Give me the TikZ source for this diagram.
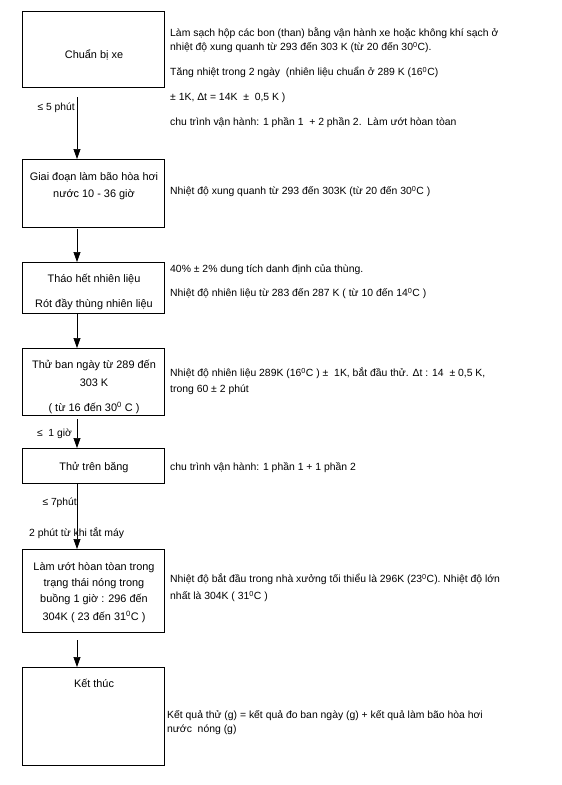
\documentclass[tikz,border=0pt]{standalone}
\usepackage{fontspec}
\setmainfont{Liberation Sans}
\usetikzlibrary{arrows.meta}
\begin{document}
\begin{tikzpicture}[x=1pt,y=-1pt,
  box/.style={draw=black, line width=0.7pt, rectangle, minimum width=141.5pt, inner sep=0pt, outer sep=0pt},
  rt/.style={anchor=west, inner sep=0pt, text height=7.5pt, text depth=0pt, font=\fontsize{10.4}{12}\selectfont},
  bt/.style={anchor=center, inner sep=0pt, text height=7.8pt, text depth=0pt, font=\fontsize{10.9}{13}\selectfont},
  lt/.style={anchor=east, inner sep=0pt, text height=7.5pt, text depth=0pt, font=\fontsize{10.3}{12}\selectfont},
  arr/.style={draw=black, line width=0.7pt, -{Triangle[length=10pt,width=7pt]}}]
\useasboundingbox (0,0) rectangle (562,785);
\fill[white] (0,0) rectangle (562,785);
% boxes
\node[box, minimum height=76pt] (b1) at (93.5,49) {};
\node[box, minimum height=68pt] (b2) at (93.5,193) {};
\node[box, minimum height=51pt] (b3) at (93.5,287.5) {};
\node[box, minimum height=67pt] (b4) at (93.5,381.5) {};
\node[box, minimum height=35pt] (b5) at (93.5,465.5) {};
\node[box, minimum height=83pt] (b6) at (93.5,590.5) {};
\node[box, minimum height=98pt] (b7) at (93.5,716) {};
% box texts
\node[bt] (b1t) at (94,55) {Chuẩn bị xe};
\node[bt] (b2t1) at (94,177) {Giai đoạn làm bão hòa hơi};
\node[bt] (b2t2) at (94,194) {nước 10 - 36 giờ};
\node[bt] (b3t1) at (94,279) {Tháo hết nhiên liệu};
\node[bt] (b3t2) at (94,304) {Rót đầy thùng nhiên liệu};
\node[bt] (b4t1) at (94,365) {Thử ban ngày từ 289 đến};
\node[bt] (b4t2) at (94,383) {303 K};
\node[bt] (b4t3) at (94,408) {( từ 16 đến 30\textsuperscript{0} C )};
\node[bt] (b5t) at (94,467) {Thử trên băng};
\node[bt] (b6t1) at (94,567) {Làm ướt hòan tòan trong};
\node[bt] (b6t2) at (94,583) {trạng thái nóng trong};
\node[bt] (b6t3) at (94,599) {buồng 1 giờ : 296 đến};
\node[bt] (b6t4) at (94,617) {304K ( 23 đến 31\textsuperscript{0}C )};
\node[bt] (b7t) at (94,684) {Kết thúc};
% right texts
\node[rt] (t1a) at (170,33) {Làm sạch hộp các bon (than) bằng vận hành xe hoặc không khí sạch ở};
\node[rt] (t1b) at (170,47) {nhiệt độ xung quanh từ 293 đến 303 K (từ 20 đến 30\textsuperscript{0}C).};
\node[rt] (t1c) at (170,72) {Tăng nhiệt trong 2 ngày\ \ (nhiên liệu chuẩn ở 289 K (16\textsuperscript{0}C)};
\node[rt] (t1d) at (170,97) {± 1K, Δt = 14K\ \ ±\ \ 0,5 K )};
\node[rt] (t1e) at (170,122) {chu trình vận hành: 1 phần 1\ \ + 2 phần 2.\ \ Làm ướt hòan tòan};
\node[rt] (t2) at (170,191) {Nhiệt độ xung quanh từ 293 đến 303K (từ 20 đến 30\textsuperscript{0}C )};
\node[rt] (t3a) at (170,269) {40\% ± 2\% dung tích danh định của thùng.};
\node[rt] (t3b) at (170,293) {Nhiệt độ nhiên liệu từ 283 đến 287 K ( từ 10 đến 14\textsuperscript{0}C )};
\node[rt] (t4a) at (170,373) {Nhiệt độ nhiên liệu 289K (16\textsuperscript{0}C ) ±\ \ 1K, bắt đầu thử. Δt : 14\ \ ± 0,5 K,};
\node[rt] (t4b) at (170,389) {trong 60 ± 2 phút};
\node[rt] (t5) at (170,467) {chu trình vận hành: 1 phần 1 + 1 phần 2};
\node[rt] (t6a) at (170,579) {Nhiệt độ bắt đầu trong nhà xưởng tối thiểu là 296K (23\textsuperscript{0}C). Nhiệt độ lớn};
\node[rt] (t6b) at (170,596) {nhất là 304K ( 31\textsuperscript{0}C )};
\node[rt] (t7a) at (167,715) {Kết quả thử (g) = kết quả đo ban ngày (g) + kết quả làm bão hòa hơi};
\node[rt] (t7b) at (167,729) {nước\ \ nóng (g)};
% left labels
\node[lt] (l1) at (75,107) {≤ 5 phút};
\node[lt] (l2) at (72,433) {≤\ \ 1 giờ};
\node[lt] (l3) at (77,502) {≤ 7phút};
\node[rt] (l4) at (29,533) {2 phút từ khi tắt máy};
% connectors
\coordinate (ax) at (77,0);
\coordinate (s1) at (77,97);
\coordinate (s2) at (77,229);
\coordinate (s4) at (77,419);
\coordinate (s6) at (77,640);
\draw[arr] (s1) -- (ax |- b2.north);
\draw[arr] (s2) -- (ax |- b3.north);
\draw[arr] (ax |- b3.south) -- (ax |- b4.north);
\draw[arr] (s4) -- (ax |- b5.north);
\draw[arr] (ax |- b5.south) -- (ax |- b6.north);
\draw[arr] (s6) -- (ax |- b7.north);
\end{tikzpicture}
\end{document}
